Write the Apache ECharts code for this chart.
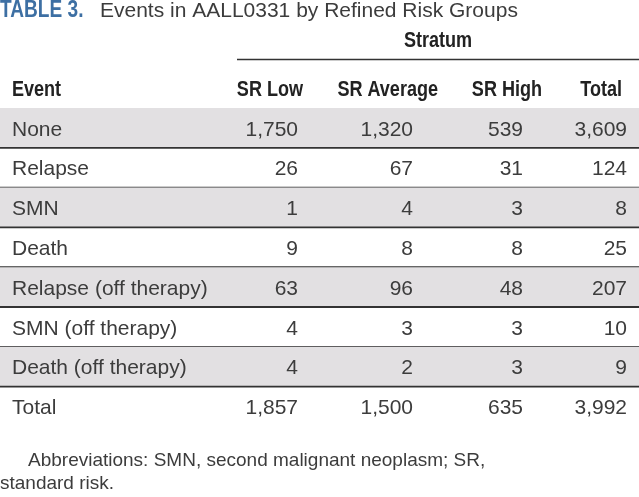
<!DOCTYPE html>
<html>
<head>
<meta charset="utf-8">
<script src="https://cdn.jsdelivr.net/npm/echarts@6/dist/echarts.min.js"></script>
<style>
html,body{margin:0;padding:0;background:#fff;}
#chart{width:639px;height:497px;}
</style>
</head>
<body>
<div id="chart"></div>
<script>
// ---- data ----
const titleLabel = 'TABLE 3.';
const titleText = 'Events in AALL0331 by Refined Risk Groups';
const spannerLabel = 'Stratum';
const columnHeaders = ['Event', 'SR Low', 'SR Average', 'SR High', 'Total'];
const events = ['None', 'Relapse', 'SMN', 'Death', 'Relapse (off therapy)', 'SMN (off therapy)', 'Death (off therapy)', 'Total'];
const srLow = [1750, 26, 1, 9, 63, 4, 4, 1857];
const srAverage = [1320, 67, 4, 8, 96, 3, 2, 1500];
const srHigh = [539, 31, 3, 8, 48, 3, 3, 635];
const totals = [3609, 124, 8, 25, 207, 10, 9, 3992];
const footnote = ['Abbreviations: SMN, second malignant neoplasm; SR,', 'standard risk.'];

// ---- layout / style ----
const BODY_FONT = '"Liberation Sans", Arial, sans-serif';
const HEAD_FONT = '"Liberation Sans", Arial, sans-serif';
const NARROW = 0.82;
const TEXT_COLOR = '#3c3c3c';
const valueRight = [298, 413, 523, 627];   // right edge of numeric columns (axis units = px)
const headerRight = [303, 438, 542, 622];
const eventLeft = 12;

const valueCols = [srLow, srAverage, srHigh, totals];
const cellData = [];
events.forEach((e, r) => {
  cellData.push([eventLeft, r, e, 'left']);
  valueCols.forEach((col, c) => {
    cellData.push([valueRight[c], r, col[r].toLocaleString('en-US'), 'right']);
  });
});

function headText(x, y, text, align, size, fill, sx) {
  return {type: 'text', x: x, y: y, scaleX: sx || NARROW,
    style: {text: text, font: 'bold ' + size + 'px ' + HEAD_FONT, fill: fill || '#222', align: align, verticalAlign: 'middle'}};
}

const chart = echarts.init(document.getElementById('chart'), null, {renderer: 'canvas'});
const gridTop = 108, rowH = 39.8;

chart.setOption({
  animation: false,
  grid: {left: 0, right: 0, top: gridTop, height: rowH * events.length},
  xAxis: {type: 'value', min: 0, max: 639, show: false},
  yAxis: {type: 'category', data: events, inverse: true, show: false},
  graphic: [
    headText(0, 11, titleLabel, 'left', 23, '#3d6fa3', 0.83),
    {type: 'text', x: 100, y: 11, style: {text: titleText, font: '21px ' + BODY_FONT, fill: TEXT_COLOR, verticalAlign: 'middle'}},
    headText(438, 41, spannerLabel, 'center', 22),
    {type: 'line', shape: {x1: 237, y1: 59.5, x2: 639, y2: 59.5}, style: {stroke: '#333', lineWidth: 1.5}},
    headText(eventLeft, 90, columnHeaders[0], 'left', 22),
    ...columnHeaders.slice(1).map((h, i) => headText(headerRight[i], 90, h, 'right', 22)),
    {type: 'line', shape: {x1: 0, y1: 109.5, x2: 639, y2: 109.5}, style: {stroke: '#222', lineWidth: 3}},
    {type: 'text', x: 28, y: 461, style: {text: footnote[0], font: '19px ' + BODY_FONT, fill: TEXT_COLOR, verticalAlign: 'middle'}},
    {type: 'text', x: 0, y: 484, style: {text: footnote[1], font: '19px ' + BODY_FONT, fill: TEXT_COLOR, verticalAlign: 'middle'}}
  ],
  series: [
    {
      type: 'custom',
      silent: true,
      data: events.map((e, i) => [0, i]),
      renderItem: function (params, api) {
        const idx = api.value(1);
        const c = api.coord([0, idx]);
        const h = api.size([0, 1])[1];
        const cs = params.coordSys;
        const top = c[1] - h / 2, bottom = c[1] + h / 2;
        const children = [];
        if (idx % 2 === 0) {
          children.push({type: 'rect', shape: {x: cs.x, y: top, width: cs.width, height: h}, style: {fill: '#e2e0e2'}});
        }
        if (idx < events.length - 1) {
          children.push({type: 'line', shape: {x1: cs.x, y1: bottom, x2: cs.x + cs.width, y2: bottom}, style: {stroke: '#333', lineWidth: 1.8}});
        }
        return {type: 'group', children: children};
      },
      z: 1
    },
    {
      type: 'custom',
      silent: true,
      data: cellData,
      dimensions: ['x', 'row', 'text', 'align'],
      encode: {x: 0, y: 1},
      renderItem: function (params, api) {
        const d = cellData[params.dataIndex];
        const p = api.coord([d[0], d[1]]);
        return {
          type: 'text',
          x: p[0], y: p[1] + 2,
          style: {text: d[2], font: '21px ' + BODY_FONT, fill: TEXT_COLOR, align: d[3], verticalAlign: 'middle'}
        };
      },
      z: 2
    }
  ]
});
</script>
</body>
</html>
